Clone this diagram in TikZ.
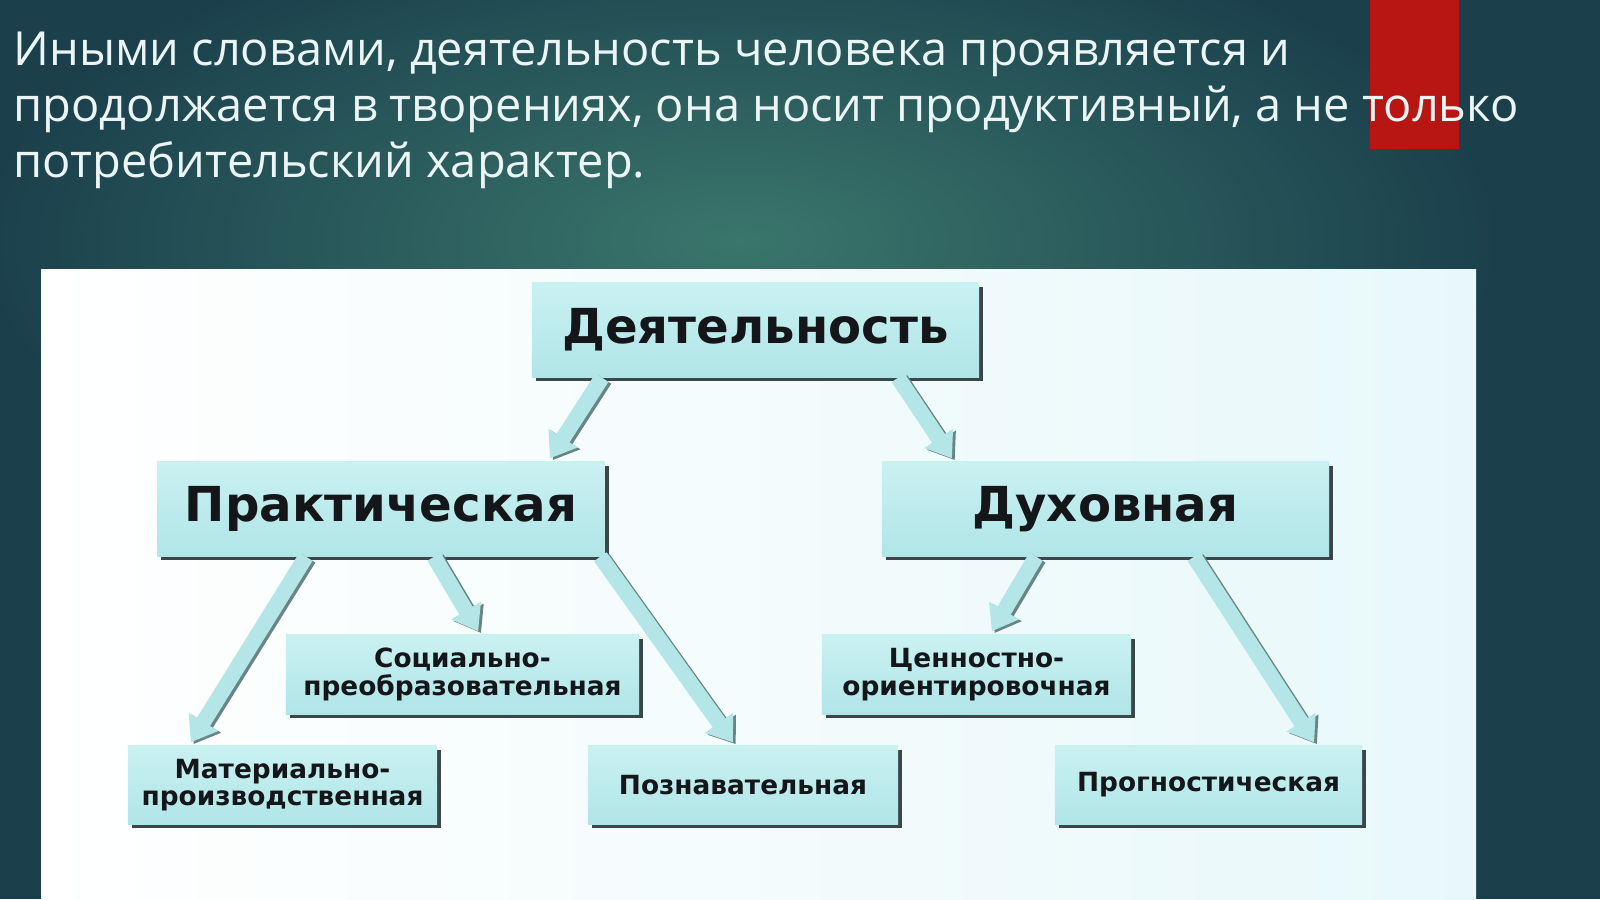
\documentclass[tikz,border=0pt]{standalone}
\usepackage{fontspec}
\setmainfont{Open Sans}
\newfontfamily\diafont{DejaVu Sans}
\usetikzlibrary{arrows.meta,shadows,calc}

\definecolor{slidebg}{RGB}{27,64,76}
\definecolor{slidelight}{RGB}{58,118,108}
\definecolor{accentred}{RGB}{184,22,18}
\definecolor{titlewhite}{RGB}{236,245,245}
\definecolor{panelcyan}{RGB}{232,248,250}
\definecolor{boxlight}{RGB}{202,241,242}
\definecolor{boxdark}{RGB}{176,229,231}
\definecolor{boxshade}{RGB}{58,70,72}
\definecolor{arrowcyan}{RGB}{180,230,231}
\definecolor{arrowshade}{RGB}{104,132,134}
\definecolor{inkdark}{RGB}{20,22,26}

\begin{document}
\begin{tikzpicture}[x=0.01cm, y=-0.01cm,
    bigbox/.style={rectangle, inner sep=0pt, top color=boxlight, bottom color=boxdark,
      drop shadow={shadow xshift=1.1pt, shadow yshift=-1.1pt, fill=boxshade, opacity=1},
      text=inkdark, font=\diafont\bfseries\fontsize{13.7}{16}\selectfont,
      minimum width=4.47cm, minimum height=0.94cm},
    smallbox/.style={rectangle, inner sep=0pt, top color=boxlight, bottom color=boxdark,
      drop shadow={shadow xshift=1.1pt, shadow yshift=-1.1pt, fill=boxshade, opacity=1},
      text=inkdark, align=center, font=\diafont\bfseries\fontsize{7.5}{7.8}\selectfont,
      minimum width=3.09cm, minimum height=0.78cm},
    fatarrow/.style={draw=arrowcyan, line width=4.4pt, shorten >=1pt,
      -{Triangle[length=2.4mm, width=3.3mm]},
      preaction={draw=arrowshade, line width=4.4pt, shorten >=1pt,
        -{Triangle[length=2.4mm, width=3.3mm]},
        transform canvas={shift={(0.8pt,-0.5pt)}}}}]

  \useasboundingbox (0,0) rectangle (1600,899);

  % slide background
  \fill[slidebg] (0,0) rectangle (1600,899);
  \shade[inner color=slidelight, outer color=slidebg] (740,240) ellipse (760 and 330);
  \fill[accentred] (1370,0) rectangle (1459,149);

  \node[anchor=north west, inner sep=0pt, align=left, text=titlewhite,
        font=\fontsize{13.35}{15.9}\selectfont] (title) at (13,31)
    {Иными словами, деятельность человека проявляется и\\
     продолжается в творениях, она носит продуктивный, а не только\\
     потребительский характер.};

  % diagram panel
  \shade[left color=white, right color=panelcyan] (41,269) rectangle (1476,899);

  \node[bigbox] (act) at (755.5,330) {Деятельность};
  \node[bigbox] (prakt) at (381,509) {Практическая};
  \node[bigbox] (duh) at (1105.5,509) {Духовная};

  \node[smallbox, minimum width=3.53cm, minimum height=0.79cm] (soc) at (462.5,674.5)
    {Социально-\\преобразовательная};
  \node[smallbox] (mat) at (282.5,785) {Материально-\\производственная};
  \node[smallbox, minimum width=3.1cm] (poz) at (743,785) {Познавательная};
  \node[smallbox, minimum height=0.79cm] (cen) at (976.5,674.5)
    {Ценностно-\\ориентировочная};
  \node[smallbox, minimum width=3.07cm] (prog) at (1208.5,785) {Прогностическая};

  % arrows
  \draw[fatarrow] ([xshift=-1.535cm]act.south) -- ([xshift=1.67cm]prakt.north);
  \draw[fatarrow] ([xshift=1.425cm]act.south) -- ([xshift=-1.515cm]duh.north);
  \draw[fatarrow] ([xshift=-0.75cm]prakt.south) -- ([xshift=-0.935cm]mat.north);
  \draw[fatarrow] ([xshift=0.53cm]prakt.south) -- ([xshift=0.175cm]soc.north);
  \draw[fatarrow] ([xshift=-0.05cm]prakt.south east) -- ([xshift=-0.08cm]poz.north);
  \draw[fatarrow] ([xshift=-0.695cm]duh.south) -- ([xshift=0.135cm]cen.north);
  \draw[fatarrow] ([xshift=0.885cm]duh.south) -- ([xshift=1.075cm]prog.north);
\end{tikzpicture}
\end{document}
